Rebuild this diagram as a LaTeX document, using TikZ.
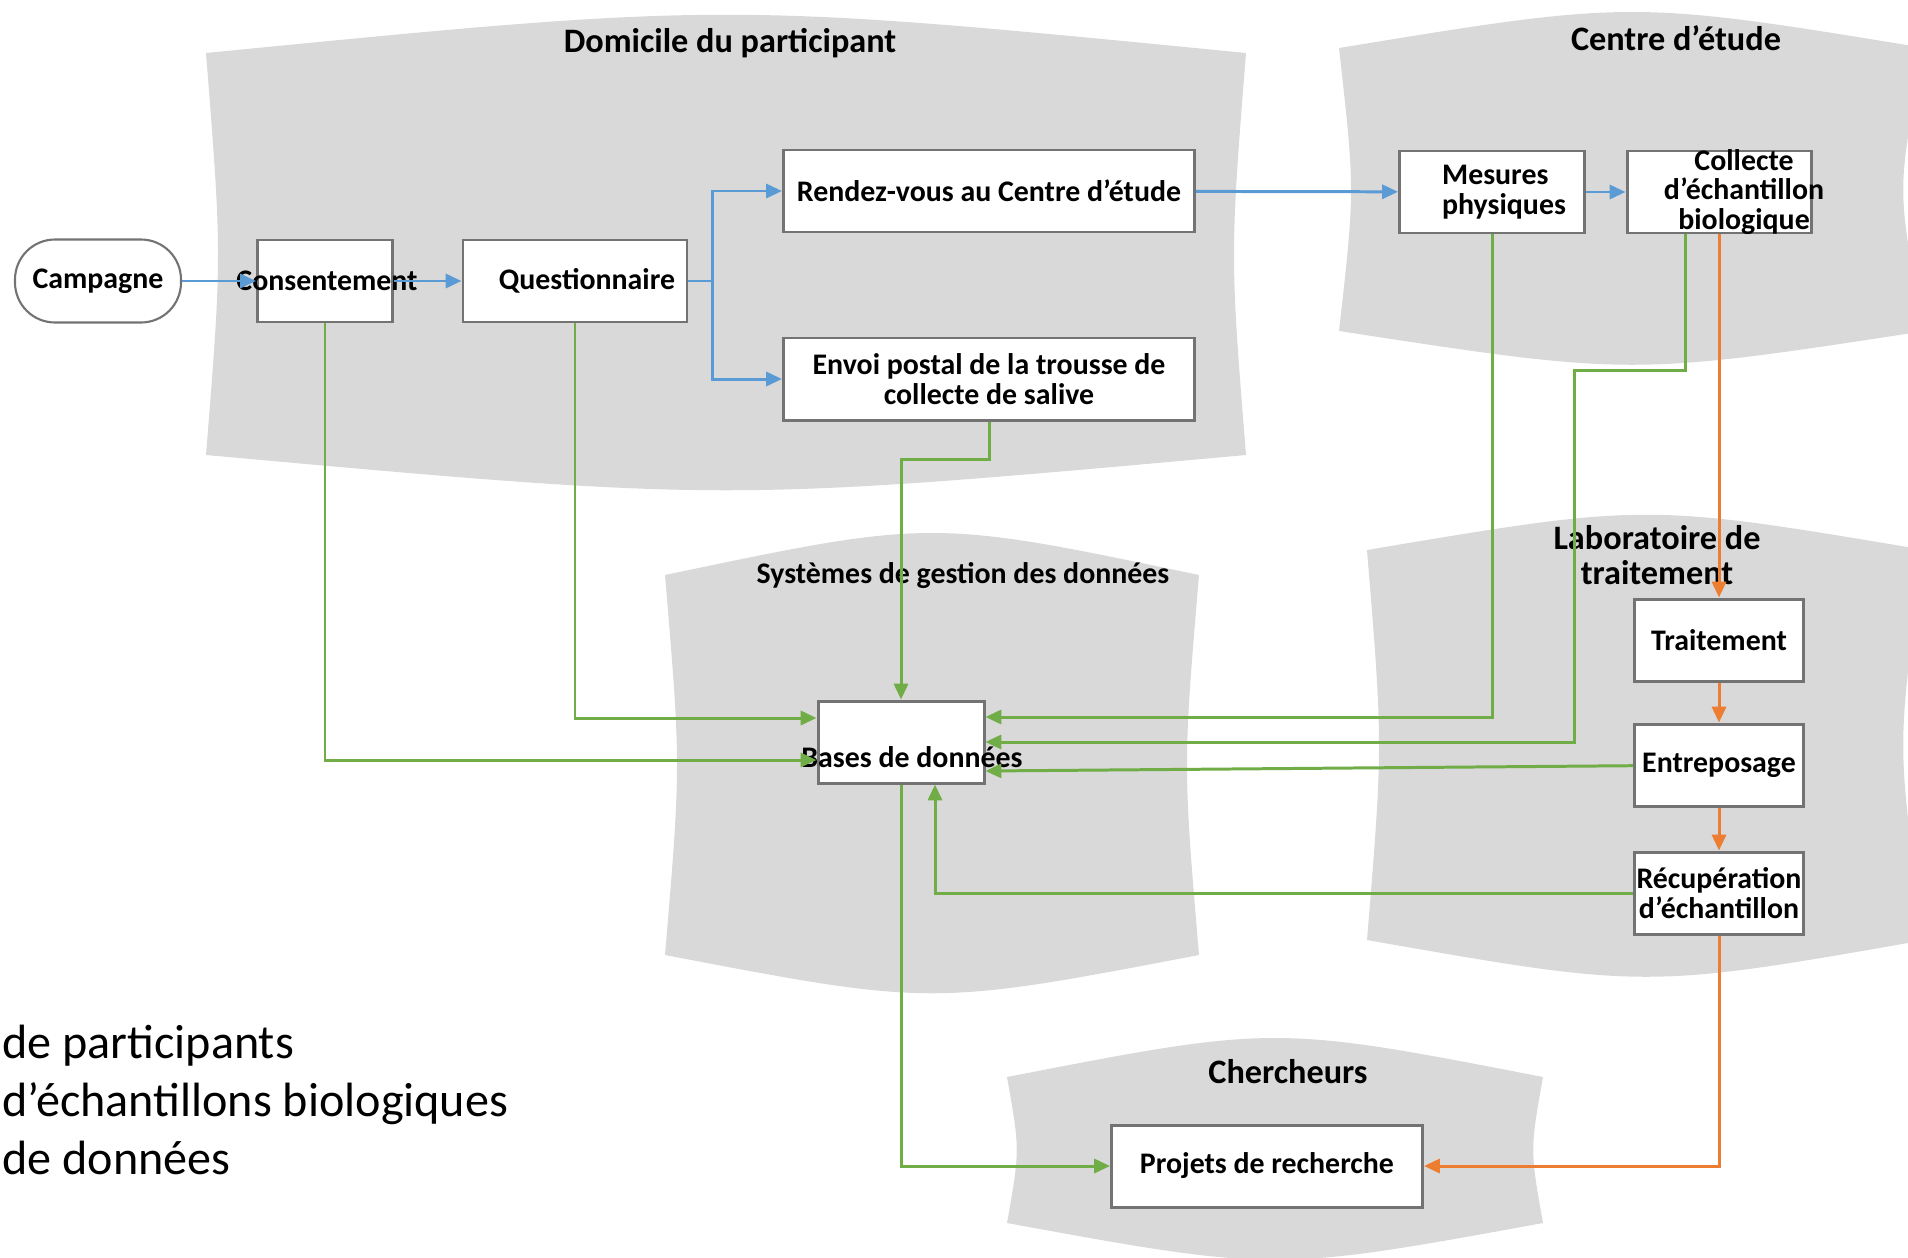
\documentclass[tikz,border=0pt]{standalone}
\usepackage{fontspec}
\setmainfont{Carlito}
\usetikzlibrary{arrows.meta,calc}

\definecolor{zonegray}{RGB}{217,217,217}
\definecolor{flowblue}{RGB}{91,155,213}
\definecolor{datagreen}{RGB}{112,173,71}
\definecolor{sampleorange}{RGB}{237,125,49}
\definecolor{boxline}{RGB}{115,115,115}

\newcommand\pxu{0.02cm}

\tikzset{
  zone/.style={fill=zonegray},
  zonetitle/.style={font=\bfseries\fontsize{19.5pt}{20pt}\selectfont, align=center, inner sep=0pt},
  box/.style={draw=boxline, fill=white, line width=1.7pt, inner sep=0pt, minimum height=82*\pxu,
    font=\bfseries\fontsize{17pt}{17pt}\selectfont, align=center},
  lbl/.style={font=\bfseries\fontsize{17pt}{17pt}\selectfont, align=center, inner sep=0pt},
  campagne/.style={box, rounded corners=0.8cm, line width=1.2pt},
  blueflow/.style={draw=flowblue, line width=1.7pt, -{Triangle[length=9pt,width=8pt]}},
  greenflow/.style={draw=datagreen, line width=1.7pt, -{Triangle[length=9pt,width=8pt]}},
  orangeflow/.style={draw=sampleorange, line width=1.7pt, -{Triangle[length=9pt,width=8pt]}}
}

\begin{document}
\begin{tikzpicture}[x=0.02cm, y=-0.02cm]
\useasboundingbox (0,0) rectangle (1908,1258);

% zones
\fill [zone] (206,53) .. controls (726,2) .. (1246,53) .. controls (1230,255) .. (1246,455)
  .. controls (726,502) .. (206,455) .. controls (222,255) .. (206,53) -- cycle;
\fill [zone] (1339,48) .. controls (1632,0) .. (1925,48) .. controls (1896,190) .. (1925,331)
  .. controls (1632,376) .. (1339,331) .. controls (1355,190) .. (1339,48) -- cycle;
\fill [zone] (665,575) .. controls (932,519) .. (1199,575) .. controls (1183,765) .. (1199,955)
  .. controls (932,1006) .. (665,955) .. controls (681,765) .. (665,575) -- cycle;
\fill [zone] (1367,550) .. controls (1646,503) .. (1925,550) .. controls (1896,745) .. (1925,940)
  .. controls (1646,989) .. (1367,940) .. controls (1383,745) .. (1367,550) -- cycle;
\fill [zone] (1007,1077) .. controls (1275,1025) .. (1543,1077) .. controls (1530,1150) .. (1543,1223)
  .. controls (1275,1272) .. (1007,1223) .. controls (1020,1150) .. (1007,1077) -- cycle;

\node (t-domicile) at (730,43) [zonetitle] {Domicile du participant};
\node (t-centre) at (1676,38) [zonetitle] {Centre d’étude};
\node (t-systemes) at (963,576) [zonetitle, font=\bfseries\fontsize{17pt}{17pt}\selectfont] {Systèmes de gestion des données};
\node (t-labo) at (1657,555) [zonetitle] {Laboratoire de\\traitement};
\node (t-chercheurs) at (1288,1072) [zonetitle] {Chercheurs};

% boxes
\node (campagne) at (98,281) [campagne, minimum width=166*\pxu, minimum height=83*\pxu] {Campagne};
\node (consent) at (325,281) [box, minimum width=135*\pxu, label={[lbl,xshift=2*\pxu]center:Consentement}] {};
\node (quest) at (575,281) [box, minimum width=224*\pxu, label={[lbl,xshift=12*\pxu]center:Questionnaire}] {};
\node (rdv) at (989,191) [box, minimum width=411*\pxu] {Rendez-vous au Centre d’étude};
\node (envoi) at (989,379) [box, minimum width=411*\pxu] {Envoi postal de la trousse de\\collecte de salive};
\node (mesures) at (1492,192) [box, minimum width=185*\pxu, label={[lbl,align=left,xshift=12*\pxu]center:Mesures\\physiques}] {};
\node (collecte) at (1719,192) [box, minimum width=184*\pxu, label={[lbl,xshift=25*\pxu]center:Collecte\\d’échantillon\\biologique}] {};
\node (bases) at (901,742) [box, minimum width=166*\pxu, label={[lbl,xshift=11*\pxu,yshift=-15*\pxu]center:Bases de données}] {};
\node (traitement) at (1719,640) [box, minimum width=169*\pxu] {Traitement};
\node (entrep) at (1719,765) [box, minimum width=169*\pxu] {Entreposage};
\node (recup) at (1719,893) [box, minimum width=169*\pxu] {Récupération\\d’échantillon};
\node (projets) at (1267,1166) [box, minimum width=311*\pxu] {Projets de recherche};

\node (legende) at (2,1100) [anchor=west, align=left, inner sep=0pt, font=\fontsize{27.4pt}{33pt}\selectfont]
  {de participants\\d’échantillons biologiques\\de données};

% participant path
\draw [blueflow] (campagne) -- (consent);
\draw [blueflow] (consent) -- (quest);
\draw [blueflow] (quest.east) -- ++(24,0) |- (rdv);
\draw [blueflow] (quest.east) -- ++(24,0) |- (envoi);
\draw [blueflow] (rdv) -- (mesures);
\draw [blueflow] (mesures) -- (collecte);

% data to the data bases
\draw [greenflow] (consent) |- ($(bases.west)+(0,18)$);
\draw [greenflow] (quest) |- ($(bases.west)+(0,-24)$);
\draw [greenflow] (envoi) -- ++(0,80) -| (bases);
\draw [greenflow] (mesures) |- ($(bases.east)+(0,-25)$);
\draw [greenflow] ($(collecte.south)+(-34,0)$) |- (1574,370) |- (bases.east);
\draw [greenflow] (entrep) -- ($(bases.east)+(0,29)$);
\draw [greenflow] (recup) -| ($(bases.south)+(34,0)$);
\draw [greenflow] (bases) |- (projets);

% samples
\draw [orangeflow] (collecte) -- (traitement);
\draw [orangeflow] (traitement) -- (entrep);
\draw [orangeflow] (entrep) -- (recup);
\draw [orangeflow] (recup) |- (projets);

\end{tikzpicture}
\end{document}
